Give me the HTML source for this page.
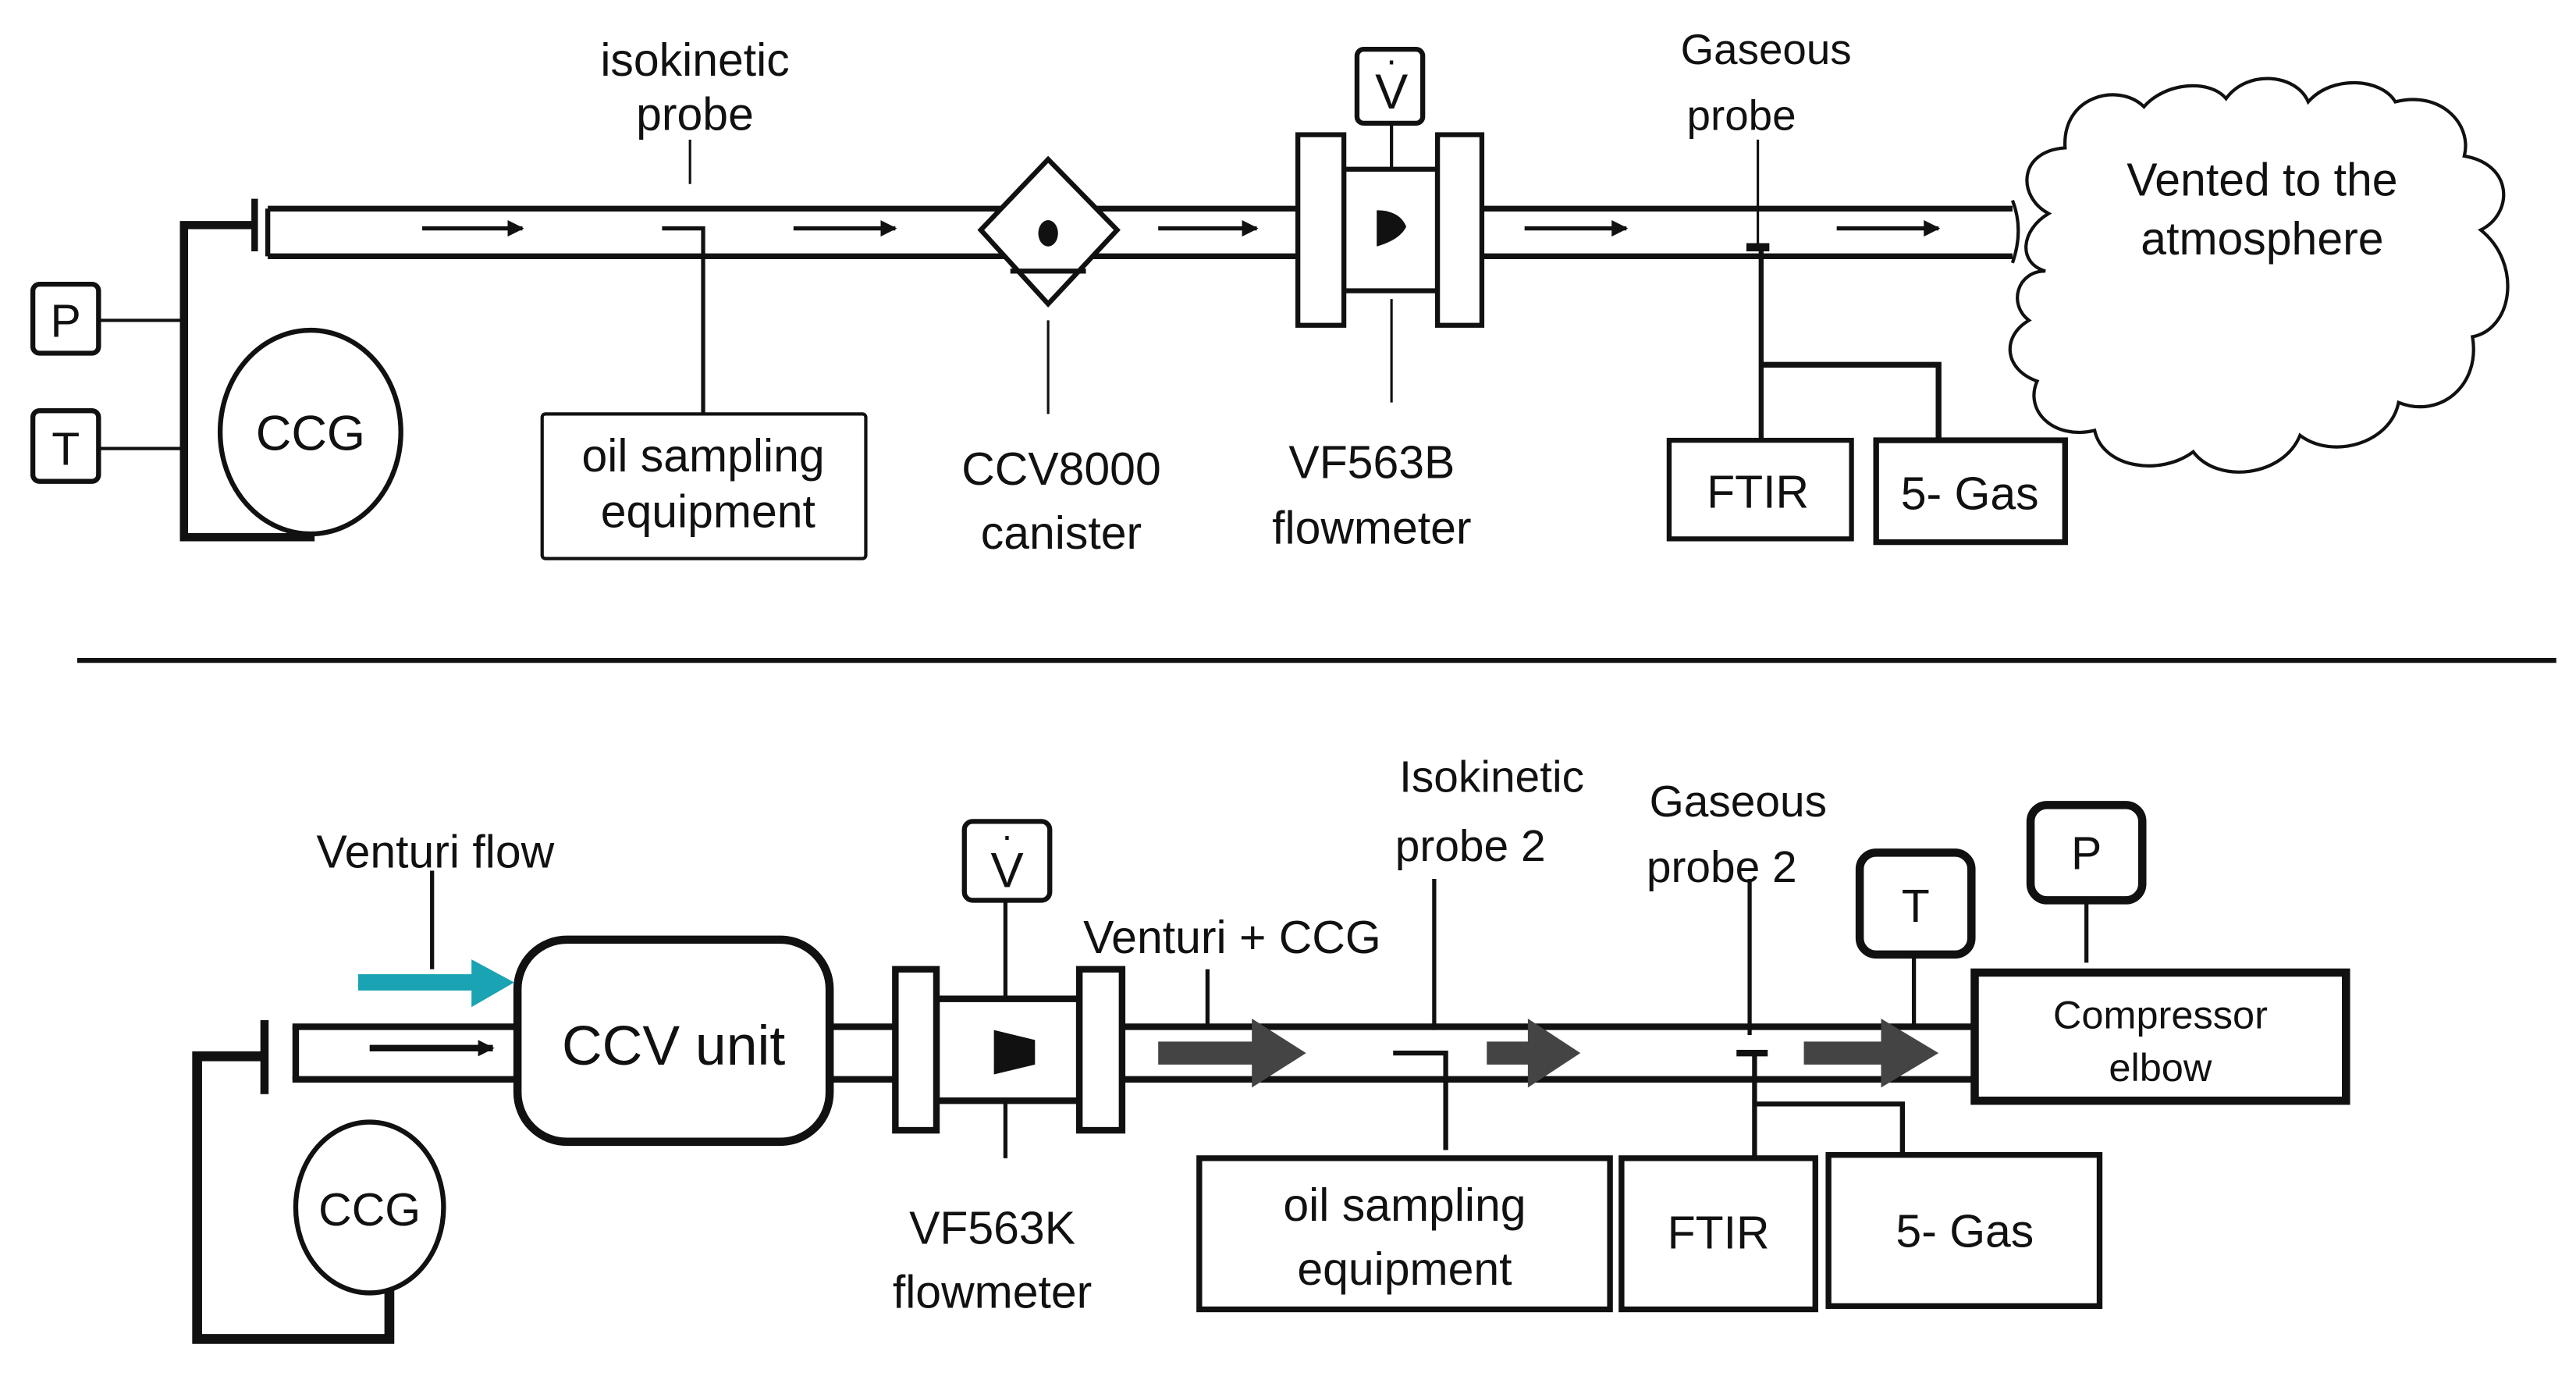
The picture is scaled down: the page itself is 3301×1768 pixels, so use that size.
<!DOCTYPE html>
<html><head><meta charset="utf-8"><style>
html,body{margin:0;padding:0;background:#fff;}
svg{display:block;}
text{font-family:"Liberation Sans",sans-serif;fill:#111;}
</style></head><body>
<svg width="3301" height="1768" viewBox="0 0 1568 840" preserveAspectRatio="none" xmlns="http://www.w3.org/2000/svg">
<defs>
<marker id="ah" markerWidth="10" markerHeight="10" refX="9" refY="5" orient="auto" markerUnits="userSpaceOnUse"><path d="M0,0 L10,5 L0,10 z" fill="#111"/></marker>
</defs>
<!-- TOP -->
<g stroke="#111" fill="none">
<line x1="163" y1="127" x2="1225" y2="127" stroke-width="3.5"/>
<line x1="163" y1="156" x2="1225" y2="156" stroke-width="3.5"/>
<line x1="163" y1="127" x2="163" y2="156" stroke-width="3"/>
<line x1="155" y1="121" x2="155" y2="153" stroke-width="4"/>
<polyline points="155,137 112,137 112,327 189,327 189,295" stroke-width="5"/>
<line x1="112" y1="137" x2="112" y2="327" stroke-width="3"/>
<ellipse cx="189" cy="263" rx="55" ry="62" stroke-width="3" fill="#fff"/>
<rect x="20" y="173" width="40" height="42" rx="4" stroke-width="3" fill="#fff"/>
<rect x="20" y="250" width="40" height="43" rx="4" stroke-width="3" fill="#fff"/>
<line x1="60" y1="195" x2="112" y2="195" stroke-width="2"/>
<line x1="60" y1="273" x2="112" y2="273" stroke-width="2"/>
<!-- arrows -->
<line x1="257" y1="139" x2="318" y2="139" stroke-width="2.5" marker-end="url(#ah)"/>
<line x1="483" y1="139" x2="545" y2="139" stroke-width="2.5" marker-end="url(#ah)"/>
<line x1="705" y1="139" x2="765" y2="139" stroke-width="2.5" marker-end="url(#ah)"/>
<line x1="928" y1="139" x2="990" y2="139" stroke-width="2.5" marker-end="url(#ah)"/>
<line x1="1118" y1="139" x2="1180" y2="139" stroke-width="2.5" marker-end="url(#ah)"/>
<!-- isokinetic -->
<line x1="420" y1="85" x2="420" y2="112" stroke-width="1.5"/>
<polyline points="403,139 428,139 428,252" stroke-width="2.5"/>
<rect x="330" y="252" width="197" height="88" rx="2" stroke-width="2" fill="#fff"/>
<!-- diamond -->
<polygon points="638,97 680,140 638,185 597,140" stroke-width="3" fill="#fff"/>
<line x1="615" y1="165" x2="661" y2="165" stroke-width="3"/>
<ellipse cx="638" cy="142" rx="6" ry="8" fill="#111" stroke="none"/>
<line x1="638" y1="195" x2="638" y2="252" stroke-width="1.5"/>
<!-- flowmeter -->
<rect x="818" y="103" width="57" height="74" stroke-width="3" fill="#fff"/>
<rect x="790" y="82" width="28" height="116" stroke-width="3" fill="#fff"/>
<rect x="875" y="82" width="27" height="116" stroke-width="3" fill="#fff"/>
<path d="M838,128 Q852,128 856,138 Q852,146 838,150 z" fill="#111" stroke="none"/>
<rect x="826" y="30" width="40" height="45" rx="4" stroke-width="3" fill="#fff"/>
<line x1="847" y1="75" x2="847" y2="103" stroke-width="2"/>
<line x1="847" y1="182" x2="847" y2="245" stroke-width="1.5"/>
<!-- gaseous -->
<line x1="1070" y1="85" x2="1070" y2="152" stroke-width="1.5"/>
<rect x="1063" y="148" width="14" height="5" fill="#111" stroke="none"/>
<line x1="1072" y1="152" x2="1072" y2="268" stroke-width="3"/>
<polyline points="1073,222 1180,222 1180,268" stroke-width="3.5"/>
<rect x="1016" y="268" width="111" height="60" stroke-width="3" fill="#fff"/>
<rect x="1142" y="268" width="115" height="62" stroke-width="3.5" fill="#fff"/>
<!-- cloud -->
<path d="M1225,122 Q1232,140 1225,160" stroke-width="2"/>
<path d="M1247,130 C1228,120 1228,92 1257,90 C1255,58 1290,50 1305,65 C1318,50 1345,48 1355,60 C1368,42 1398,45 1405,62 C1420,45 1450,48 1458,62 C1485,55 1505,75 1500,95 C1530,100 1530,130 1510,140 C1535,160 1530,200 1505,205 C1510,235 1485,255 1460,245 C1455,270 1420,280 1400,265 C1390,290 1350,295 1335,275 C1315,290 1280,285 1275,262 C1250,268 1232,250 1240,232 C1220,225 1218,205 1235,195 C1222,185 1228,165 1245,165 C1228,160 1230,140 1247,130 z" stroke-width="2" fill="#fff"/>
</g>
<g font-size="28" text-anchor="middle">
<text x="423" y="46">isokinetic</text>
<text x="423" y="79">probe</text>
<text x="40" y="205">P</text>
<text x="40" y="283">T</text>
<text x="189" y="274" font-size="30">CCG</text>
<text x="428" y="287">oil sampling</text>
<text x="431" y="321">equipment</text>
<text x="646" y="295">CCV8000</text>
<text x="646" y="334">canister</text>
<text x="847" y="66" font-size="30">V</text>
<text x="847" y="44" font-size="22">·</text>
<text x="835" y="291">VF563B</text>
<text x="835" y="331">flowmeter</text>
<text x="1075" y="39" font-size="26">Gaseous</text>
<text x="1060" y="79" font-size="26">probe</text>
<text x="1070" y="309">FTIR</text>
<text x="1199" y="310">5- Gas</text>
<text x="1377" y="119">Vented to the</text>
<text x="1377" y="155">atmosphere</text>
</g>
<!-- separator -->
<line x1="47" y1="402" x2="1556" y2="402" stroke="#111" stroke-width="3"/>
<!-- BOTTOM -->
<g stroke="#111" fill="none">
<line x1="178" y1="625" x2="315" y2="625" stroke-width="4"/>
<line x1="178" y1="657" x2="315" y2="657" stroke-width="4"/>
<line x1="180" y1="625" x2="180" y2="657" stroke-width="4"/>
<line x1="505" y1="625" x2="545" y2="625" stroke-width="4"/>
<line x1="505" y1="657" x2="545" y2="657" stroke-width="4"/>
<line x1="683" y1="625" x2="1202" y2="625" stroke-width="4"/>
<line x1="683" y1="657" x2="1202" y2="657" stroke-width="4"/>
<line x1="161" y1="621" x2="161" y2="666" stroke-width="5"/>
<polyline points="161,643 120,643 120,815 237,815 237,782" stroke-width="6"/>
<ellipse cx="225" cy="735" rx="45" ry="52" stroke-width="3" fill="#fff"/>
<line x1="225" y1="638" x2="300" y2="638" stroke-width="4" marker-end="url(#ah)"/>
<rect x="315" y="572" width="190" height="123" rx="30" stroke-width="5" fill="#fff"/>
<line x1="263" y1="530" x2="263" y2="590" stroke-width="2.5"/>
<line x1="218" y1="598" x2="290" y2="598" stroke="#1aa3b3" stroke-width="10"/>
<polygon points="287,584 313,598 287,613" fill="#1aa3b3" stroke="none"/>
<!-- flowmeter 2 -->
<rect x="570" y="608" width="87" height="62" stroke-width="4" fill="#fff"/>
<rect x="545" y="590" width="25" height="98" stroke-width="4" fill="#fff"/>
<rect x="657" y="590" width="26" height="98" stroke-width="4" fill="#fff"/>
<polygon points="605,627 630,633 630,648 605,654" fill="#111" stroke="none"/>
<rect x="587" y="500" width="52" height="48" rx="5" stroke-width="3" fill="#fff"/>
<line x1="612" y1="548" x2="612" y2="608" stroke-width="2.5"/>
<line x1="612" y1="670" x2="612" y2="705" stroke-width="2.5"/>
<line x1="735" y1="590" x2="735" y2="624" stroke-width="2.5"/>
<!-- gray arrows -->
<g fill="#444" stroke="none">
<rect x="705" y="634" width="62" height="14"/><polygon points="762,620 795,641 762,662"/>
<rect x="905" y="634" width="30" height="14"/><polygon points="930,620 962,641 930,662"/>
<rect x="1098" y="634" width="52" height="14"/><polygon points="1145,620 1180,641 1145,662"/>
</g>
<line x1="873" y1="535" x2="873" y2="627" stroke-width="2.5"/>
<polyline points="848,641 880,641 880,700" stroke-width="3"/>
<line x1="1065" y1="535" x2="1065" y2="630" stroke-width="2.5"/>
<line x1="1057" y1="641" x2="1076" y2="641" stroke-width="4"/>
<line x1="1068" y1="641" x2="1068" y2="705" stroke-width="3"/>
<polyline points="1068,672 1158,672 1158,702" stroke-width="3"/>
<rect x="1132" y="519" width="68" height="62" rx="10" stroke-width="5" fill="#fff"/>
<line x1="1165" y1="581" x2="1165" y2="624" stroke-width="2.5"/>
<rect x="1236" y="490" width="68" height="58" rx="10" stroke-width="5" fill="#fff"/>
<line x1="1270" y1="548" x2="1270" y2="586" stroke-width="2.5"/>
<rect x="1202" y="592" width="226" height="78" stroke-width="5" fill="#fff"/>
<rect x="730" y="705" width="250" height="92" stroke-width="3.5" fill="#fff"/>
<rect x="987" y="705" width="118" height="92" stroke-width="3.5" fill="#fff"/>
<rect x="1113" y="703" width="165" height="92" stroke-width="3.5" fill="#fff"/>
</g>
<g font-size="28" text-anchor="middle">
<text x="265" y="528">Venturi flow</text>
<text x="410" y="648" font-size="34">CCV unit</text>
<text x="225" y="746">CCG</text>
<text x="613" y="540" font-size="30">V</text>
<text x="613" y="516" font-size="22">·</text>
<text x="750" y="580">Venturi + CCG</text>
<text x="604" y="757">VF563K</text>
<text x="604" y="796">flowmeter</text>
<text x="908" y="482" font-size="27">Isokinetic</text>
<text x="895" y="524" font-size="27">probe 2</text>
<text x="1058" y="497" font-size="27">Gaseous</text>
<text x="1048" y="537" font-size="27">probe 2</text>
<text x="1166" y="561">T</text>
<text x="1270" y="529">P</text>
<text x="1315" y="626" font-size="24">Compressor</text>
<text x="1315" y="658" font-size="24">elbow</text>
<text x="855" y="743">oil sampling</text>
<text x="855" y="782">equipment</text>
<text x="1046" y="760">FTIR</text>
<text x="1196" y="759">5- Gas</text>
</g>
</svg>
</body></html>
